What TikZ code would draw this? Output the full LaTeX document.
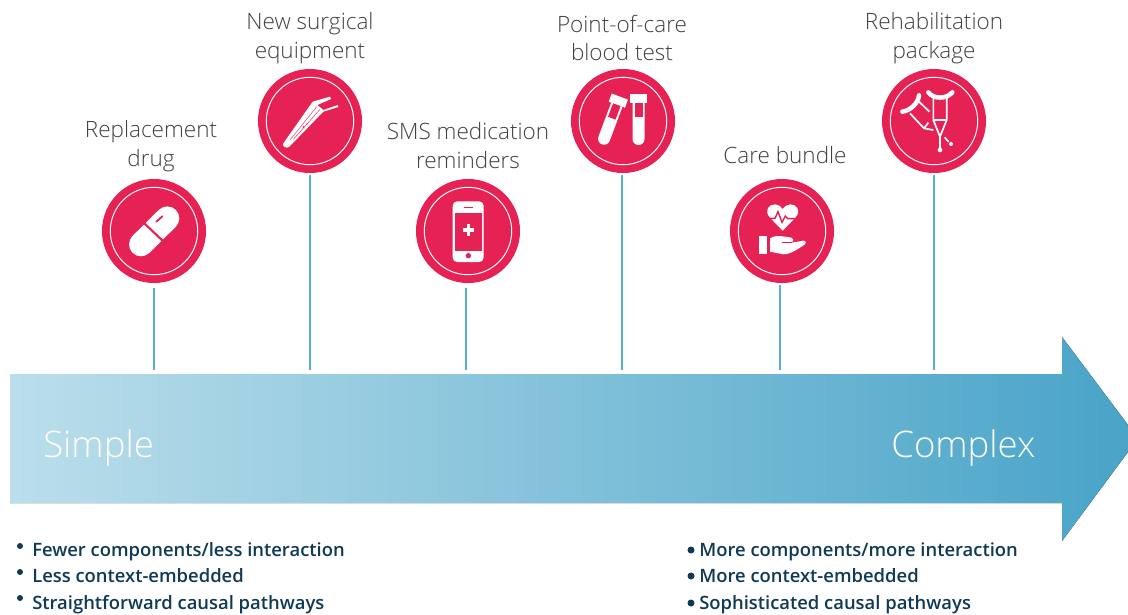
\documentclass[tikz,border=0pt]{standalone}
\usepackage{fontspec}
\setmainfont{Open Sans}[UprightFont=* Light]
\definecolor{crimson}{HTML}{E62255}
\definecolor{stemblue}{HTML}{5BB0D0}
\definecolor{arrowlight}{HTML}{BBDEEB}
\definecolor{arrowdark}{HTML}{49A4C8}
\definecolor{labelgrey}{HTML}{404040}
\definecolor{listnavy}{HTML}{0F3A56}
\tikzset{
  disc/.style={circle, fill=crimson, minimum size=2.6cm, inner sep=0pt},
  ring/.style={draw=white, line width=0.7pt},
  stem/.style={draw=stemblue, line width=2pt},
  toplabel/.style={align=center, text=labelgrey, font=\fontsize{16}{20.6}\selectfont},
  endlabel/.style={text=white, anchor=base west, inner sep=0pt, font=\fontsize{26}{30}\selectfont},
  listitem/.style={text=listnavy, anchor=base west, inner sep=0pt, font=\fontsize{13.1}{16}\selectfont\bfseries},
  zoomed/.style={x=0.008333cm, y=-0.008333cm}
}
\newcommand{\testtube}{
  \fill[white] (-26,-13) rectangle (26,13);
  \fill[white] (-18,13) -- (-18,122) arc[start angle=180, end angle=0, radius=18] -- (18,13) -- cycle;
  \fill[crimson] (-12,13) rectangle (12,56);
}
\begin{document}
\begin{tikzpicture}[x=0.025cm, y=-0.025cm]
            \useasboundingbox (0,0) rectangle (1128,614);
            \fill[left color=arrowlight, right color=arrowdark] (10,374) -- (1062,374) -- (1062,337) -- (1128,425) -- (1128,452) -- (1062,541) -- (1062,503) -- (10,503) -- cycle;
            \node[endlabel] (simple) at (43,457) {Simple};
            \node[endlabel] (complex) at (891,457) {Complex};

            \node[disc] (drug) at (154,231) {};
            \node[disc] (forceps) at (310,121) {};
            \node[disc] (phone) at (468,231) {};
            \node[disc] (tubes) at (623,121) {};
            \node[disc] (bundle) at (782,231) {};
            \node[disc] (crutch) at (934,121) {};
            \draw[ring] (drug) circle (43.7);
            \draw[ring] (forceps) circle (43.7);
            \draw[ring] (phone) circle (43.7);
            \draw[ring] (tubes) circle (43.7);
            \draw[ring] (bundle) circle (43.7);
            \draw[ring] (crutch) circle (43.7);

            \coordinate (drugtop) at (154,288);
            \coordinate (drugend) at (154,370);
            \coordinate (forcepstop) at (310,175);
            \coordinate (forcepsend) at (310,370);
            \coordinate (phonetop) at (466,288);
            \coordinate (phoneend) at (466,370);
            \coordinate (tubestop) at (622,175);
            \coordinate (tubesend) at (622,370);
            \coordinate (bundletop) at (780,285);
            \coordinate (bundleend) at (780,370);
            \coordinate (crutchtop) at (934,175);
            \coordinate (crutchend) at (934,370);
            \draw[stem] (drugtop) -- (drugend);
            \draw[stem] (forcepstop) -- (forcepsend);
            \draw[stem] (phonetop) -- (phoneend);
            \draw[stem] (tubestop) -- (tubesend);
            \draw[stem] (bundletop) -- (bundleend);
            \draw[stem] (crutchtop) -- (crutchend);

            \node[toplabel] (druglabel) at (151,146) {Replacement\\drug};
            \node[toplabel] (forcepslabel) at (310,38) {New surgical\\equipment};
            \node[toplabel] (phonelabel) at (468,146) {SMS medication\\reminders};
            \node[toplabel] (tubeslabel) at (622,38) {Point-of-care\\blood test};
            \node[toplabel] (bundlelabel) at (785,155) {Care bundle};
            \node[toplabel] (crutchlabel) at (934,38) {Rehabilitation\\package};

            \begin{scope}[shift={(90,60)}, zoomed]
                \draw[white, line width=17pt, line cap=round] (153,553) -- (232,475);
                \draw[crimson, line width=1.5pt] (163,490) -- (224,548);
                \draw[crimson, line width=1.3pt, line cap=round] (199,485) -- (217,469);
                \fill[white] (580,250) -- (668,125) -- (720,110) -- (723,117) -- (682,135) -- (700,150) -- (743,135) -- (745,141) -- (700,155) -- (598,260) .. controls (590,268) and (574,258) .. (580,250) -- cycle;
                \draw[crimson, line width=0.3pt] (600,240) -- (680,140);
                \draw[crimson, line width=0.3pt] (610,238) -- (690,148);
                \fill[crimson] (641,201) circle (3);
                \fill[crimson] (651,192) circle (2);
            \end{scope}

            \begin{scope}[shift={(400,60)}, zoomed]
                \fill[white, rounded corners=3.2pt] (158,424) rectangle (251,606);
                \fill[crimson] (164,458) rectangle (245,572);
                \fill[crimson] (192,440) rectangle (218,444);
                \fill[crimson] (205,587) circle (8);
                \fill[white] (188,505) rectangle (222,515);
                \fill[white] (200,493) rectangle (210,527);
                \begin{scope}[shift={(715.5,115)}]
                    \testtube
                \end{scope}
                \begin{scope}[shift={(655,122)}, rotate=-20.5]
                    \testtube
                \end{scope}
            \end{scope}

            \begin{scope}[shift={(720,60)}, zoomed]
                \fill[white] (188,512) -- (150,473) .. controls (130,450) and (148,433) .. (165,433) .. controls (175,433) and (184,440) .. (188,447) .. controls (192,440) and (201,433) .. (211,433) .. controls (228,433) and (246,450) .. (226,473) -- cycle;
                \draw[crimson, line width=1pt] (138,475) -- (165,475) -- (174,455) -- (186,487) -- (196,468) -- (203,476) -- (238,476);
                \fill[white] (117,528) rectangle (142,583);
                \fill[white] (150,535) .. controls (165,525) and (180,528) .. (195,530) -- (215,533) .. controls (222,535) and (222,545) .. (215,548) -- (250,542) .. controls (258,542) and (260,550) .. (252,555) .. controls (230,570) and (205,585) .. (190,583) -- (150,575) -- cycle;
                \draw[crimson, line width=1pt] (185,547) -- (215,547);
                \draw[white, line width=3.2pt, line cap=round] (625,97) .. controls (640,118) and (680,118) .. (697,97);
                \draw[white, line width=1.2pt] (640,110) -- (640,180) -- (660,230) -- (680,180) -- (680,110);
                \draw[white, line width=1.2pt] (640,180) -- (680,180);
                \draw[white, line width=1.6pt] (660,230) -- (660,270);
                \fill[white] (660,270) circle (7);
                \draw[white, line width=3.2pt, line cap=round] (597,106) .. controls (595,130) and (570,152) .. (547,155);
                \draw[white, line width=1.2pt] (570,160) -- (612,205) -- (640,210);
                \draw[white, line width=1.2pt] (597,125) -- (628,155);
                \draw[white, line width=1.2pt] (625,188) -- (612,205);
                \draw[white, line width=1.2pt] (674,232) -- (686,246);
                \fill[white] (693,252) circle (6);
            \end{scope}

            \fill[listnavy] (20,546) circle (3);
            \fill[listnavy] (20,572) circle (3);
            \fill[listnavy] (20,598) circle (3);
            \node[listitem] (fewer) at (32,556) {Fewer components/less interaction};
            \node[listitem] (less) at (32,582) {Less context-embedded};
            \node[listitem] (straight) at (32,609) {Straightforward causal pathways};
            \fill[listnavy] (691,550) circle (3.5);
            \fill[listnavy] (691,576) circle (3.5);
            \fill[listnavy] (691,603) circle (3.5);
            \node[listitem] (more) at (699,556) {More components/more interaction};
            \node[listitem] (morecontext) at (699,582) {More context-embedded};
            \node[listitem] (sophisticated) at (699,609) {Sophisticated causal pathways};
        \end{tikzpicture}
\end{document}
